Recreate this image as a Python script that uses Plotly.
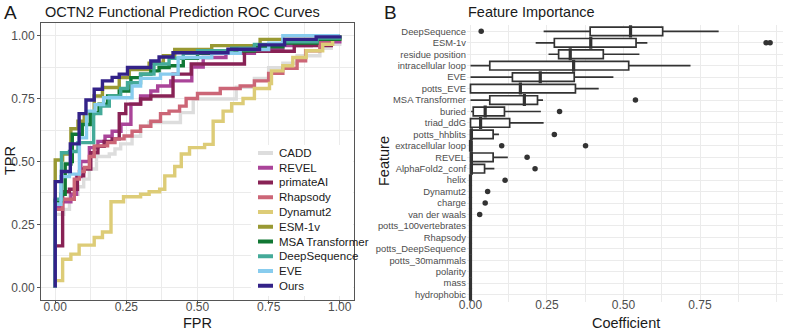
import plotly.graph_objects as go

# ---------------- ROC data (panel A) ----------------
cadd_fpr = [0, 0, 0.03, 0.05, 0.08, 0.10, 0.12, 0.145, 0.19, 0.21, 0.23, 0.27, 0.30, 0.33, 0.44, 0.485, 0.636, 0.70, 0.75, 0.80, 0.85, 0.93, 0.97, 1.0]
cadd_tpr = [0, 0.29, 0.31, 0.37, 0.40, 0.43, 0.47, 0.52, 0.53, 0.55, 0.57, 0.60, 0.64, 0.655, 0.694, 0.748, 0.795, 0.83, 0.872, 0.89, 0.92, 0.95, 0.965, 1.0]

revel_fpr = [0, 0, 0.025, 0.055, 0.075, 0.09, 0.12, 0.15, 0.175, 0.20, 0.231, 0.266, 0.30, 0.336, 0.36, 0.406, 0.48, 0.52, 0.60, 0.70, 0.80, 0.90, 1.0]
revel_tpr = [0, 0.317, 0.34, 0.37, 0.44, 0.50, 0.555, 0.58, 0.60, 0.62, 0.648, 0.728, 0.76, 0.78, 0.80, 0.82, 0.875, 0.913, 0.93, 0.95, 0.96, 0.975, 1.0]

primateai_fpr = [0, 0, 0.026, 0.05, 0.078, 0.10, 0.125, 0.15, 0.172, 0.20, 0.225, 0.248, 0.30, 0.336, 0.414, 0.478, 0.665, 0.84, 0.97, 1.0]
primateai_tpr = [0, 0.165, 0.38, 0.39, 0.443, 0.47, 0.535, 0.56, 0.58, 0.59, 0.69, 0.728, 0.748, 0.76, 0.847, 0.887, 0.938, 0.96, 1.0, 1.0]

rhapsody_fpr = [0, 0, 0.026, 0.067, 0.085, 0.102, 0.12, 0.137, 0.184, 0.21, 0.242, 0.27, 0.30, 0.336, 0.37, 0.40, 0.437, 0.46, 0.50, 0.58, 0.65, 0.70, 0.75, 0.80, 0.85, 0.88, 0.93, 0.97, 1.0]
rhapsody_tpr = [0, 0.31, 0.35, 0.43, 0.46, 0.476, 0.52, 0.562, 0.575, 0.59, 0.601, 0.62, 0.64, 0.66, 0.69, 0.70, 0.72, 0.75, 0.77, 0.79, 0.80, 0.82, 0.85, 0.87, 0.90, 0.94, 0.97, 0.99, 1.0]

dynamut2_fpr = [0, 0, 0.026, 0.055, 0.084, 0.137, 0.166, 0.196, 0.24, 0.30, 0.33, 0.367, 0.385, 0.42, 0.443, 0.472, 0.525, 0.555, 0.59, 0.62, 0.66, 0.70, 0.753, 0.76, 0.80, 0.835, 0.882, 0.94, 0.975, 1.0]
dynamut2_tpr = [0, 0.027, 0.112, 0.132, 0.168, 0.198, 0.22, 0.34, 0.36, 0.37, 0.38, 0.39, 0.443, 0.48, 0.53, 0.555, 0.568, 0.66, 0.70, 0.73, 0.75, 0.79, 0.81, 0.86, 0.88, 0.913, 0.94, 0.965, 0.985, 1.0]

esm1v_fpr = [0, 0, 0.026, 0.055, 0.08, 0.102, 0.137, 0.166, 0.225, 0.26, 0.33, 0.38, 0.42, 0.55, 0.72, 0.95, 1.0]
esm1v_tpr = [0, 0.506, 0.53, 0.63, 0.66, 0.69, 0.76, 0.794, 0.833, 0.865, 0.89, 0.92, 0.945, 0.96, 0.985, 1.0, 1.0]

msa_fpr = [0, 0, 0.02, 0.035, 0.055, 0.06, 0.095, 0.123, 0.154, 0.184, 0.225, 0.266, 0.30, 0.336, 0.365, 0.40, 0.45, 0.50, 0.62, 0.70, 0.80, 0.92, 1.0]
msa_tpr = [0, 0.343, 0.37, 0.49, 0.50, 0.608, 0.647, 0.694, 0.728, 0.76, 0.78, 0.833, 0.847, 0.86, 0.873, 0.88, 0.91, 0.93, 0.94, 0.955, 0.97, 0.985, 1.0]

deepseq_fpr = [0, 0, 0.022, 0.05, 0.08, 0.135, 0.16, 0.19, 0.23, 0.254, 0.30, 0.347, 0.40, 0.45, 0.50, 0.62, 0.70, 0.80, 0.92, 1.0]
deepseq_tpr = [0, 0.35, 0.535, 0.54, 0.575, 0.69, 0.72, 0.76, 0.79, 0.813, 0.847, 0.887, 0.91, 0.93, 0.94, 0.95, 0.965, 0.975, 0.99, 1.0]

eve_fpr = [0, 0, 0.02, 0.05, 0.085, 0.11, 0.14, 0.17, 0.27, 0.30, 0.37, 0.432, 0.55, 0.65, 0.75, 0.80, 1.0]
eve_tpr = [0, 0.33, 0.44, 0.45, 0.594, 0.70, 0.726, 0.753, 0.80, 0.83, 0.847, 0.913, 0.93, 0.945, 0.97, 1.0, 1.0]

ours_fpr = [0, 0, 0.022, 0.053, 0.084, 0.108, 0.137, 0.166, 0.20, 0.225, 0.254, 0.336, 0.365, 0.414, 0.607, 0.718, 0.806, 0.917, 1.0]
ours_tpr = [0, 0.42, 0.46, 0.57, 0.69, 0.744, 0.787, 0.82, 0.834, 0.847, 0.873, 0.899, 0.915, 0.932, 0.946, 0.963, 0.985, 0.995, 1.0]

model_names = ["CADD", "REVEL", "primateAI", "Rhapsody", "Dynamut2", "ESM-1v",
               "MSA Transformer", "DeepSequence", "EVE", "Ours"]
model_colors = ["#DDDDDD", "#AA4499", "#882255", "#CC6677", "#DDCC77", "#999933",
                "#117733", "#44AA99", "#88CCEE", "#332288"]
roc_x = [cadd_fpr, revel_fpr, primateai_fpr, rhapsody_fpr, dynamut2_fpr, esm1v_fpr,
         msa_fpr, deepseq_fpr, eve_fpr, ours_fpr]
roc_y = [cadd_tpr, revel_tpr, primateai_tpr, rhapsody_tpr, dynamut2_tpr, esm1v_tpr,
         msa_tpr, deepseq_tpr, eve_tpr, ours_tpr]

# ---------------- Feature importance data (panel B) ----------------
features = ["DeepSequence", "ESM-1v", "residue position", "intracellular loop", "EVE",
            "potts_EVE", "MSA Transformer", "buried", "triad_ddG", "potts_hhblits",
            "extracellular loop", "REVEL", "AlphaFold2_conf", "helix", "Dynamut2",
            "charge", "van der waals", "potts_100vertebrates", "Rhapsody",
            "potts_DeepSequence", "potts_30mammals", "polarity", "mass", "hydrophobic"]
whisker_lo = [0.239, 0.213, 0.255, 0.0, 0.0, 0.0, 0.0, 0.002, 0.0, 0.0, 0.0, 0.0, 0.0,
              0, 0, 0, 0, 0, 0, 0, 0, 0, 0, 0]
q1 = [0.391, 0.274, 0.288, 0.063, 0.137, 0.0, 0.063, 0.009, 0.0, 0.0, 0.0, 0.0, 0.0,
      0, 0, 0, 0, 0, 0, 0, 0, 0, 0, 0]
median = [0.523, 0.393, 0.326, 0.337, 0.228, 0.163, 0.176, 0.048, 0.033, 0.003, 0.0, 0.003, 0.003,
          0, 0, 0, 0, 0, 0, 0, 0, 0, 0, 0]
q3 = [0.628, 0.541, 0.434, 0.517, 0.339, 0.343, 0.219, 0.111, 0.128, 0.074, 0.005, 0.074, 0.046,
      0, 0, 0, 0, 0, 0, 0, 0, 0, 0, 0]
whisker_hi = [0.811, 0.578, 0.552, 0.719, 0.467, 0.419, 0.237, 0.230, 0.239, 0.093, 0.005, 0.122, 0.078,
              0, 0, 0, 0, 0, 0, 0, 0, 0, 0, 0]
outlier_feature = ["DeepSequence", "ESM-1v", "ESM-1v", "MSA Transformer", "buried",
                   "potts_hhblits", "extracellular loop", "extracellular loop", "REVEL",
                   "AlphaFold2_conf", "helix", "Dynamut2", "charge", "van der waals"]
outlier_value = [0.035, 0.966, 0.979, 0.539, 0.291, 0.274, 0.102, 0.376, 0.185,
                 0.211, 0.113, 0.056, 0.048, 0.030]

tick_vals = [0, 0.25, 0.5, 0.75, 1.0]
tick_text = ["0.00", "0.25", "0.50", "0.75", "1.00"]

# ---------------- figure ----------------
W, H = 786, 332
FONT = "Liberation Sans, Arial, Helvetica, sans-serif"
GRID = "#EBEBEB"
TICKC = "#4D4D4D"
DARK = "#333333"

def px(x):
    return x / W

def py(y):
    return 1 - y / H

fig = go.Figure()

for name, col, xs, ys in zip(model_names, model_colors, roc_x, roc_y):
    fig.add_trace(go.Scatter(x=xs, y=ys, mode="lines", name=name,
                             line=dict(color=col, width=3.4, shape="hv"),
                             xaxis="x", yaxis="y", showlegend=False, hoverinfo="skip"))

fig.add_trace(go.Box(y=features, q1=q1, median=median, q3=q3,
                     lowerfence=whisker_lo, upperfence=whisker_hi,
                     orientation="h", xaxis="x2", yaxis="y2",
                     fillcolor="white", line=dict(color=DARK, width=1.7),
                     whiskerwidth=0, width=0.75, boxpoints=False, showlegend=False))
fig.add_trace(go.Scatter(x=median, y=features, mode="markers", xaxis="x2", yaxis="y2",
                         marker=dict(symbol="line-ns", size=8.6,
                                     line=dict(width=3.2, color=DARK)),
                         showlegend=False, hoverinfo="skip"))
fig.add_trace(go.Scatter(x=outlier_value, y=outlier_feature, mode="markers",
                         xaxis="x2", yaxis="y2",
                         marker=dict(size=5.5, color=DARK),
                         showlegend=False, hoverinfo="skip", cliponaxis=False))

axis_common = dict(tickvals=tick_vals, ticktext=tick_text, showgrid=True,
                   gridcolor=GRID, gridwidth=1, zeroline=False, automargin=False,
                   tickfont=dict(size=12, color=TICKC, family=FONT),
                   minor=dict(tickvals=[0.125, 0.375, 0.625, 0.875], showgrid=True,
                              gridcolor=GRID, gridwidth=0.6, ticks=""))

fig.update_layout(
    template="none",
    width=W, height=H, margin=dict(l=0, r=0, t=0, b=0, pad=0),
    autosize=False,
    paper_bgcolor="white", plot_bgcolor="white",
    font=dict(family=FONT, color="#1a1a1a"),
    showlegend=False,
    xaxis=dict(domain=[px(41), px(354)], range=[-0.05, 1.05], anchor="y",
               showline=True, mirror=True, linecolor="#555555", linewidth=1,
               ticks="outside", ticklen=3, tickcolor="#555555",
               ticklabelstandoff=-7, **axis_common),
    yaxis=dict(domain=[py(300), py(23)], range=[-0.05, 1.05], anchor="x",
               showline=True, mirror=True, linecolor="#555555", linewidth=1,
               ticks="outside", ticklen=3, tickcolor="#555555", **axis_common),
    xaxis2=dict(domain=[px(467), px(783)], range=[-0.0114, 1.0212], anchor="y2",
                ticks="", showline=False, ticklabelstandoff=-6, **axis_common),
    yaxis2=dict(domain=[py(301.5), py(24.5)], anchor="x2", type="category",
                categoryorder="array", categoryarray=features,
                range=[len(features) - 0.4, -0.6], autorange=False, automargin=False,
                showgrid=True, gridcolor=GRID, gridwidth=1, zeroline=False,
                showline=False, ticks="", tickfont=dict(size=9.4, color=TICKC, family=FONT)),
)

annotations = [
    dict(text="A", x=px(2), y=py(12), xanchor="left", yanchor="middle",
         font=dict(size=19, color="#1a1a1a")),
    dict(text="B", x=px(382), y=py(12), xanchor="left", yanchor="middle",
         font=dict(size=19, color="#1a1a1a")),
    dict(text="OCTN2 Functional Prediction ROC Curves", x=px(43), y=py(12),
         xanchor="left", yanchor="middle", font=dict(size=14.5, color="#1a1a1a")),
    dict(text="Feature Importance", x=px(466), y=py(12),
         xanchor="left", yanchor="middle", font=dict(size=14.5, color="#1a1a1a")),
    dict(text="TPR", x=px(10), y=py(161), xanchor="center", yanchor="middle",
         textangle=-90, font=dict(size=14.5, color="#1a1a1a")),
    dict(text="FPR", x=px(197), y=py(323), xanchor="center", yanchor="middle",
         font=dict(size=14.5, color="#1a1a1a")),
    dict(text="Feature", x=px(384), y=py(161), xanchor="center", yanchor="middle",
         textangle=-90, font=dict(size=14.5, color="#1a1a1a")),
    dict(text="Coefficient", x=px(626), y=py(323), xanchor="center", yanchor="middle",
         font=dict(size=14.5, color="#1a1a1a")),
]

shapes = [dict(type="rect", xref="paper", yref="paper", x0=px(251), x1=px(353),
               y0=py(296), y1=py(145), fillcolor="white", line=dict(width=0),
               layer="above")]
for i, (name, col) in enumerate(zip(model_names, model_colors)):
    yc = 153 + i * 14.75
    shapes.append(dict(type="line", xref="paper", yref="paper", x0=px(258), x1=px(273),
                       y0=py(yc), y1=py(yc), line=dict(color=col, width=4), layer="above"))
    annotations.append(dict(text=name, x=px(277), y=py(yc), xanchor="left",
                            yanchor="middle", font=dict(size=11.5, color="#1a1a1a")))

for a in annotations:
    a.update(xref="paper", yref="paper", showarrow=False)

fig.update_layout(annotations=annotations, shapes=shapes)

fig.write_html("out.html", config={"responsive": False, "displayModeBar": False},
               post_script="document.body.style.margin='0';document.body.style.padding='0';")
